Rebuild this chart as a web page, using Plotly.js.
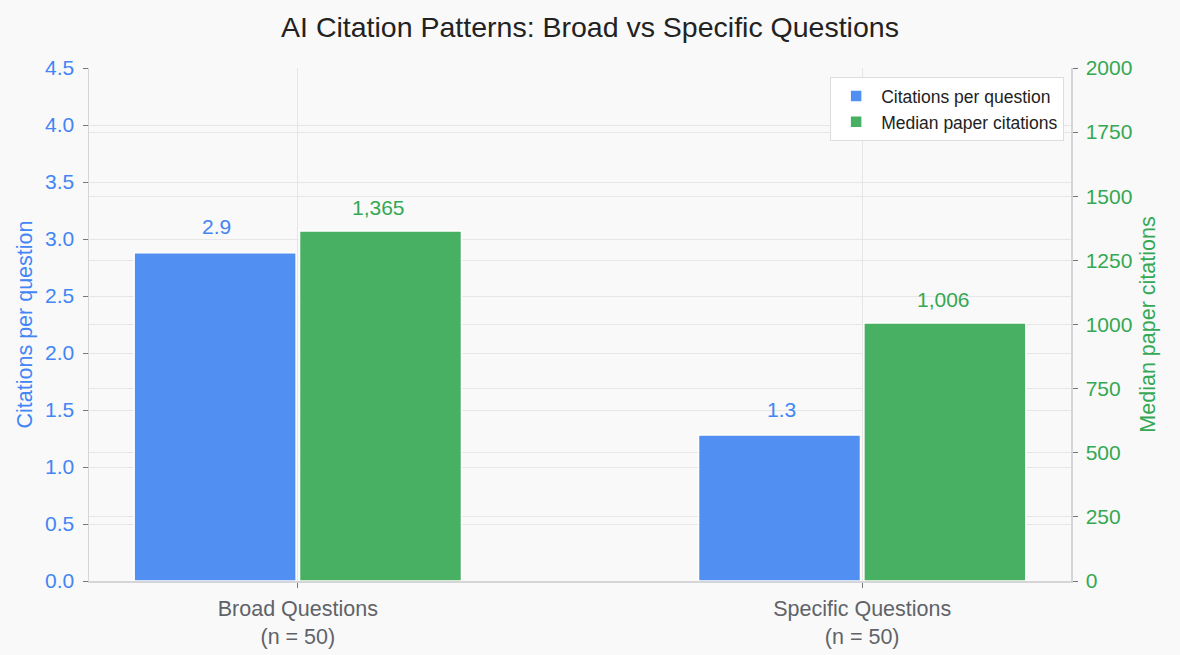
<!DOCTYPE html>
<html>
<head>
<meta charset="utf-8">
<script src="https://cdn.plot.ly/plotly-3.0.1.min.js"></script>
<style>
  body { margin: 0; background: #f9f9f9; }
  #myDiv { width: 1180px; height: 655px; }
</style>
</head>
<body>
<div id="myDiv"></div>
<script>
const categories = ['Broad Questions<br>(n = 50)', 'Specific Questions<br>(n = 50)'];
const citationsPerQuestion = [2.88, 1.28];
const medianPaperCitations = [1365, 1006];
const leftTicks = [0, 0.5, 1, 1.5, 2, 2.5, 3, 3.5, 4, 4.5];
const rightTicks = [0, 250, 500, 750, 1000, 1250, 1500, 1750, 2000];

const blue = '#528ff2';
const green = '#48b062';
const blueText = '#4285f4';
const greenText = '#34a853';
const barW = 0.287;

const citas = {
  x: categories,
  y: citationsPerQuestion,
  type: 'bar',
  name: 'Citations per question',
  marker: { color: blue, line: { color: '#ffffff', width: 1.5 } },
  width: barW,
  offset: -barW - 0.003,
  yaxis: 'y',
  hoverinfo: 'skip'
};

const mediana = {
  x: categories,
  y: medianPaperCitations,
  type: 'bar',
  name: 'Median paper citations',
  marker: { color: green, line: { color: '#ffffff', width: 1.5 } },
  width: barW,
  offset: 0.003,
  yaxis: 'y2',
  hoverinfo: 'skip'
};

// etiquetas encima de las barras
const etiquetas = [];
citationsPerQuestion.forEach((v, i) => {
  etiquetas.push({
    x: i - barW / 2, y: v, xref: 'x', yref: 'y',
    text: v.toFixed(1), showarrow: false, yshift: 26,
    font: { size: 21, color: blueText }
  });
});
medianPaperCitations.forEach((v, i) => {
  etiquetas.push({
    x: i + barW / 2, y: v, xref: 'x', yref: 'y2',
    text: v.toLocaleString('en-US'), showarrow: false, yshift: 23,
    font: { size: 21, color: greenText }
  });
});

var layout = {
  width: 1180,
  height: 655,
  paper_bgcolor: '#f9f9f9',
  plot_bgcolor: '#f9f9f9',
  font: { family: '"Liberation Sans", Arial, sans-serif', size: 21, color: '#555' },
  margin: { l: 89, r: 109, t: 68, b: 74 },
  title: {
    text: 'AI Citation Patterns: Broad vs Specific Questions',
    font: { size: 28.5, color: '#222' },
    x: 0.5, xanchor: 'center', y: 0.958, yanchor: 'middle'
  },
  showlegend: true,
  legend: {
    x: 0.993, xanchor: 'right', y: 0.982, yanchor: 'top',
    bgcolor: '#ffffff', bordercolor: '#dddddd', borderwidth: 1,
    font: { size: 17.5, color: '#222' }, traceorder: 'normal',
    itemwidth: 40, tracegroupgap: 0
  },
  bargap: 0,
  xaxis: {
    type: 'category',
    range: [-0.37, 1.37],
    showgrid: true, gridcolor: '#e6e6e6',
    showline: true, linecolor: '#d5d5d8', linewidth: 1.5,
    ticks: 'outside', ticklen: 5, tickcolor: '#777',
    ticklabelstandoff: 3,
    tickfont: { size: 21.5, color: '#5f6368' },
    zeroline: false
  },
  yaxis: {
    range: [0, 4.5],
    tickvals: leftTicks,
    ticktext: leftTicks.map(t => t.toFixed(1)),
    showgrid: true, gridcolor: '#e6e6e6',
    showline: true, linecolor: '#d5d5d8', linewidth: 1.5,
    ticks: 'outside', ticklen: 5, tickcolor: '#777',
    ticklabelstandoff: 4,
    tickfont: { size: 21, color: blueText },
    zeroline: false,
    title: { text: 'Citations per question', font: { size: 21.5, color: blueText }, standoff: 6 }
  },
  yaxis2: {
    overlaying: 'y', side: 'right',
    range: [0, 2000],
    tickvals: rightTicks,
    showgrid: true, gridcolor: '#e6e6e6',
    showline: true, linecolor: '#d5d5d8', linewidth: 1.5,
    ticks: 'outside', ticklen: 5, tickcolor: '#777',
    ticklabelstandoff: 4,
    tickfont: { size: 21, color: greenText },
    zeroline: false,
    title: { text: 'Median paper citations', font: { size: 21.5, color: greenText }, standoff: 8 }
  },
  annotations: etiquetas
};

Plotly.newPlot('myDiv', [citas, mediana], layout, { displayModeBar: false, staticPlot: true });
</script>
</body>
</html>
